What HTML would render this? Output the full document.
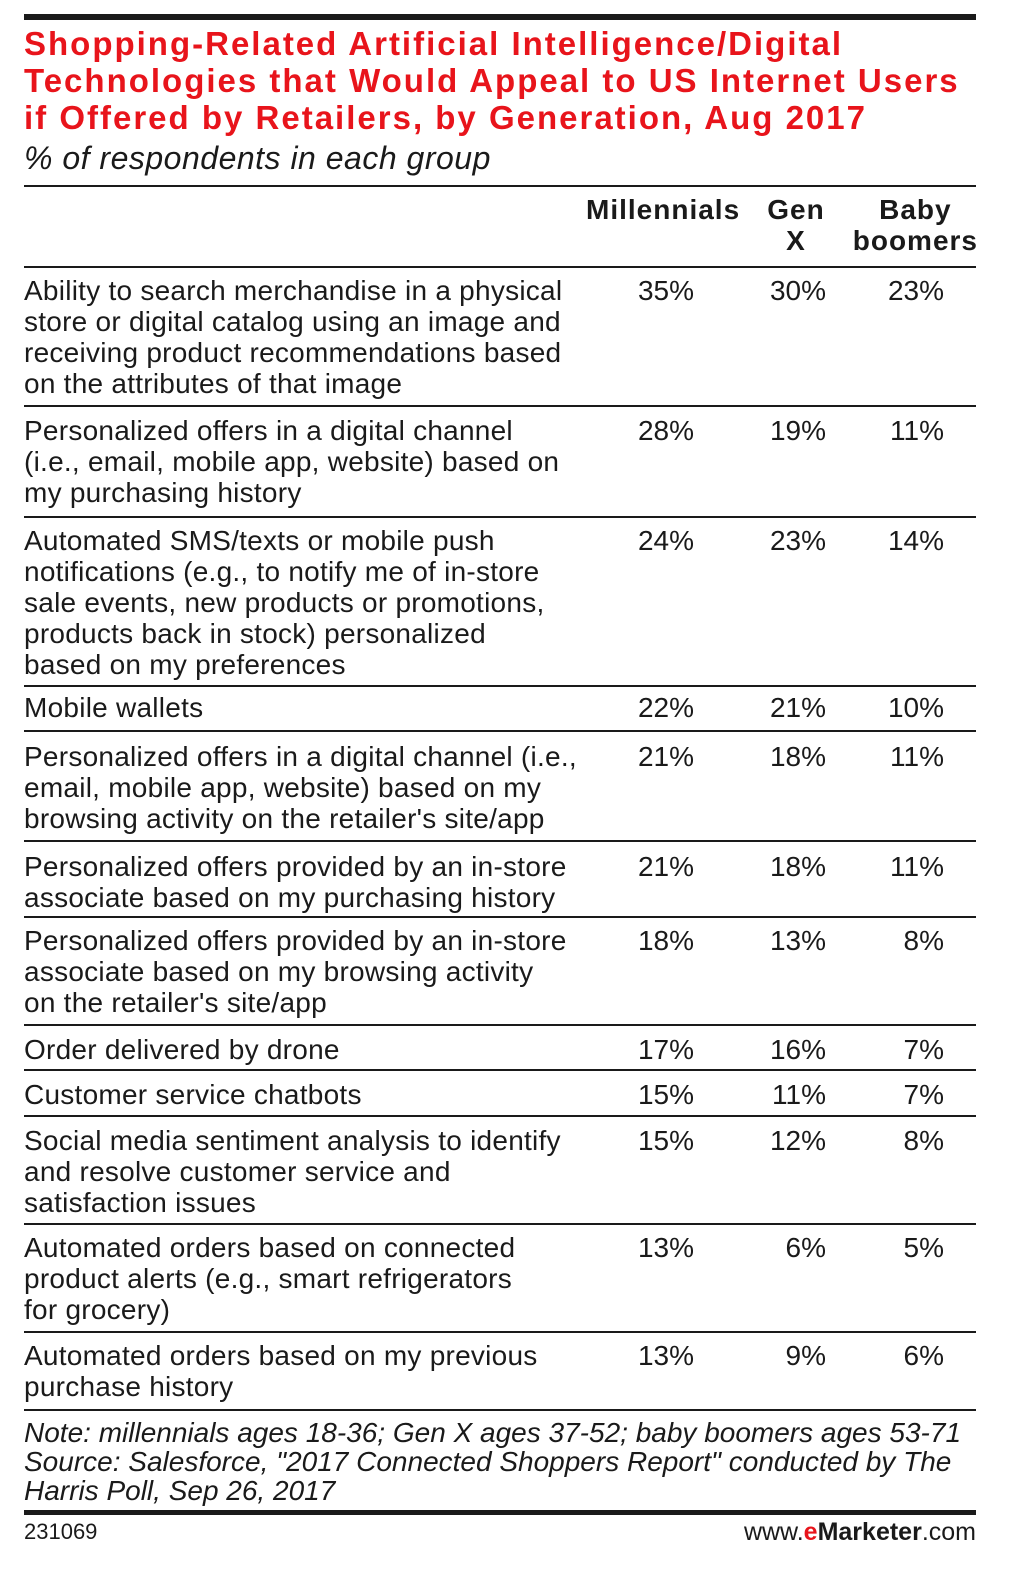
<!DOCTYPE html>
<html><head><meta charset="utf-8"><style>
body{margin:0;background:#fff;width:1018px;height:1569px;position:relative;font-family:"Liberation Sans",sans-serif;color:#1a1a1a;overflow:hidden}
.a{position:absolute;white-space:nowrap}
.hr{position:absolute;left:24px;width:952px;background:#1a1a1a}
.t{left:24px;font-size:28px;letter-spacing:0.25px;line-height:31px;white-space:pre}
.v{font-size:28px;line-height:31px;text-align:right}
.ttl{left:24px;font-size:33px;letter-spacing:2px;font-weight:bold;color:#e8141b;line-height:37px;white-space:pre}
.h{font-size:28px;letter-spacing:1px;font-weight:bold;line-height:31px}
</style></head><body>
<div class="hr" style="top:14px;height:6px"></div>
<div class="a ttl" style="top:25px">Shopping-Related Artificial Intelligence/Digital
Technologies that Would Appeal to US Internet Users
if Offered by Retailers, by Generation, Aug 2017</div>
<div class="a" style="left:24px;top:139px;font-size:32px;letter-spacing:0.5px;font-style:italic;line-height:38px">% of respondents in each group</div>
<div class="hr" style="top:185px;height:2px"></div>
<div class="a h" style="left:586px;top:194px">Millennials</div>
<div class="a h" style="left:756px;width:80px;top:194px;text-align:center">Gen<br>X</div>
<div class="a h" style="right:40px;top:194px;text-align:center">Baby<br>boomers</div>
<div class="hr" style="top:266px;height:2px"></div>

<div class="a t" style="top:275px">Ability to search merchandise in a physical
store or digital catalog using an image and
receiving product recommendations based
on the attributes of that image</div>
<div class="hr" style="top:405px;height:2px"></div>
<div class="a t" style="top:415px">Personalized offers in a digital channel
(i.e., email, mobile app, website) based on
my purchasing history</div>
<div class="hr" style="top:516px;height:2px"></div>
<div class="a t" style="top:525px">Automated SMS/texts or mobile push
notifications (e.g., to notify me of in-store
sale events, new products or promotions,
products back in stock) personalized
based on my preferences</div>
<div class="hr" style="top:685px;height:2px"></div>
<div class="a t" style="top:692px">Mobile wallets</div>
<div class="hr" style="top:730px;height:2px"></div>
<div class="a t" style="top:741px">Personalized offers in a digital channel (i.e.,
email, mobile app, website) based on my
browsing activity on the retailer's site/app</div>
<div class="hr" style="top:840px;height:2px"></div>
<div class="a t" style="top:851px">Personalized offers provided by an in-store
associate based on my purchasing history</div>
<div class="hr" style="top:916px;height:2px"></div>
<div class="a t" style="top:925px">Personalized offers provided by an in-store
associate based on my browsing activity
on the retailer's site/app</div>
<div class="hr" style="top:1024px;height:2px"></div>
<div class="a t" style="top:1034px">Order delivered by drone</div>
<div class="hr" style="top:1069px;height:2px"></div>
<div class="a t" style="top:1079px">Customer service chatbots</div>
<div class="hr" style="top:1115px;height:2px"></div>
<div class="a t" style="top:1125px">Social media sentiment analysis to identify
and resolve customer service and
satisfaction issues</div>
<div class="hr" style="top:1223px;height:2px"></div>
<div class="a t" style="top:1232px">Automated orders based on connected
product alerts (e.g., smart refrigerators
for grocery)</div>
<div class="hr" style="top:1331px;height:2px"></div>
<div class="a t" style="top:1340px">Automated orders based on my previous
purchase history</div>
<div class="hr" style="top:1409px;height:2px"></div>

<div class="a v" style="right:324px;top:275px">35%</div><div class="a v" style="right:192px;top:275px">30%</div><div class="a v" style="right:74px;top:275px">23%</div>
<div class="a v" style="right:324px;top:415px">28%</div><div class="a v" style="right:192px;top:415px">19%</div><div class="a v" style="right:74px;top:415px">11%</div>
<div class="a v" style="right:324px;top:525px">24%</div><div class="a v" style="right:192px;top:525px">23%</div><div class="a v" style="right:74px;top:525px">14%</div>
<div class="a v" style="right:324px;top:692px">22%</div><div class="a v" style="right:192px;top:692px">21%</div><div class="a v" style="right:74px;top:692px">10%</div>
<div class="a v" style="right:324px;top:741px">21%</div><div class="a v" style="right:192px;top:741px">18%</div><div class="a v" style="right:74px;top:741px">11%</div>
<div class="a v" style="right:324px;top:851px">21%</div><div class="a v" style="right:192px;top:851px">18%</div><div class="a v" style="right:74px;top:851px">11%</div>
<div class="a v" style="right:324px;top:925px">18%</div><div class="a v" style="right:192px;top:925px">13%</div><div class="a v" style="right:74px;top:925px">8%</div>
<div class="a v" style="right:324px;top:1034px">17%</div><div class="a v" style="right:192px;top:1034px">16%</div><div class="a v" style="right:74px;top:1034px">7%</div>
<div class="a v" style="right:324px;top:1079px">15%</div><div class="a v" style="right:192px;top:1079px">11%</div><div class="a v" style="right:74px;top:1079px">7%</div>
<div class="a v" style="right:324px;top:1125px">15%</div><div class="a v" style="right:192px;top:1125px">12%</div><div class="a v" style="right:74px;top:1125px">8%</div>
<div class="a v" style="right:324px;top:1232px">13%</div><div class="a v" style="right:192px;top:1232px">6%</div><div class="a v" style="right:74px;top:1232px">5%</div>
<div class="a v" style="right:324px;top:1340px">13%</div><div class="a v" style="right:192px;top:1340px">9%</div><div class="a v" style="right:74px;top:1340px">6%</div>

<div class="a" style="left:24px;top:1418px;font-size:28px;font-style:italic;line-height:29px;white-space:pre">Note: millennials ages 18-36; Gen X ages 37-52; baby boomers ages 53-71
Source: Salesforce, "2017 Connected Shoppers Report" conducted by The
Harris Poll, Sep 26, 2017</div>
<div class="hr" style="top:1510px;height:5px"></div>
<div class="a" style="left:24px;top:1520px;font-size:22px;line-height:24px">231069</div>
<div class="a" style="right:42px;top:1518px;font-size:25px;line-height:28px">www.<b style="color:#e8141b">e</b><b>Marketer</b>.com</div>
</body></html>
